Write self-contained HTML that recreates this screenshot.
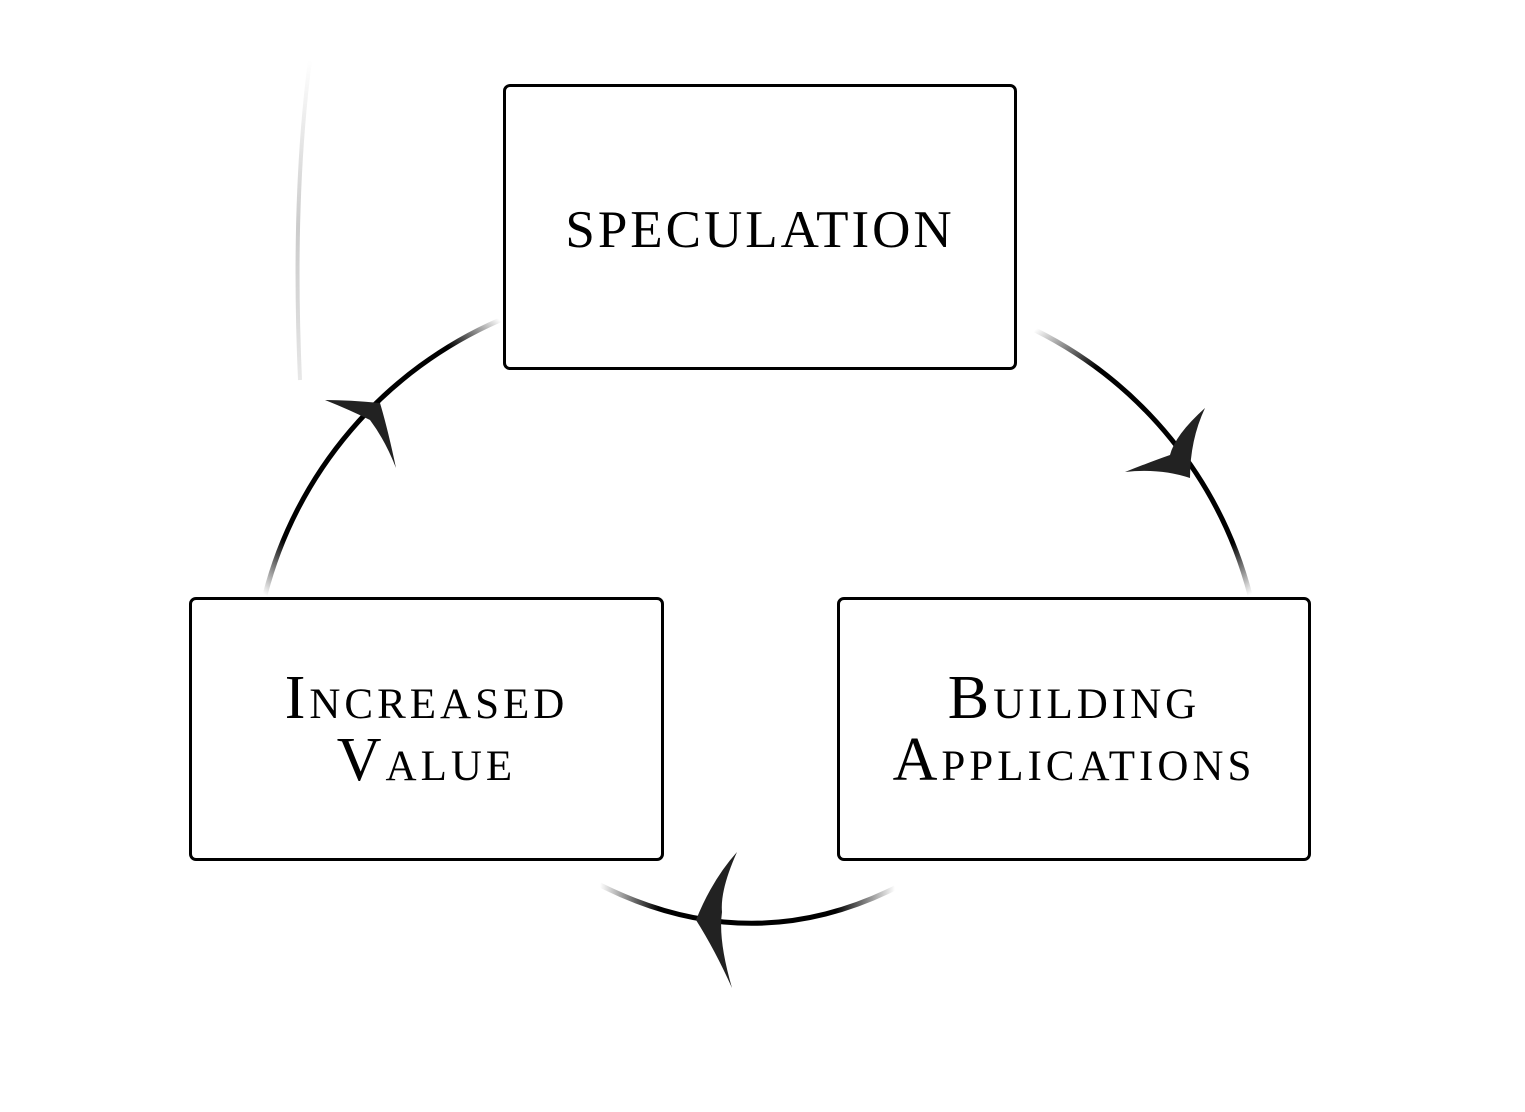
<!DOCTYPE html>
<html><head><meta charset="utf-8"><style>
html,body{margin:0;padding:0;background:#fff;}
.box{position:absolute;border:3px solid #000;border-radius:7px;box-sizing:border-box;background:#fff;display:flex;align-items:center;justify-content:center;text-align:center;font-family:"Liberation Serif",serif;font-variant:small-caps;font-size:62px;line-height:62px;letter-spacing:4px;color:#000;}
</style></head><body>
<div style="position:relative;width:1525px;height:1112px;overflow:hidden">
<svg width="1525" height="1112" style="position:absolute;left:0;top:0">
<defs>
<linearGradient id="g1" gradientUnits="userSpaceOnUse" x1="1035" y1="330" x2="1250" y2="595"><stop offset="0" stop-color="#000" stop-opacity="0"/><stop offset="0.2" stop-color="#000"/><stop offset="0.85" stop-color="#000"/><stop offset="1" stop-color="#000" stop-opacity="0"/></linearGradient>
<linearGradient id="g2" gradientUnits="userSpaceOnUse" x1="895" y1="888" x2="600" y2="885"><stop offset="0" stop-color="#000" stop-opacity="0"/><stop offset="0.2" stop-color="#000"/><stop offset="0.8" stop-color="#000"/><stop offset="1" stop-color="#000" stop-opacity="0"/></linearGradient>
<linearGradient id="g3" gradientUnits="userSpaceOnUse" x1="265" y1="595" x2="500" y2="320"><stop offset="0" stop-color="#000" stop-opacity="0"/><stop offset="0.15" stop-color="#000"/><stop offset="0.85" stop-color="#000"/><stop offset="1" stop-color="#000" stop-opacity="0"/></linearGradient>
<linearGradient id="g4" gradientUnits="userSpaceOnUse" x1="0" y1="60" x2="0" y2="390"><stop offset="0" stop-color="#ccc" stop-opacity="0"/><stop offset="0.5" stop-color="#ccc"/><stop offset="1" stop-color="#bbb" stop-opacity="0.3"/></linearGradient>
</defs>
<path d="M310 60 Q292 200 300 380" stroke="url(#g4)" stroke-width="4" fill="none"/>
<path d="M1035 330 A412 412 0 0 1 1250 595" stroke="url(#g1)" stroke-width="5" fill="none"/>
<path d="M600 885 Q750 960 895 888" stroke="url(#g2)" stroke-width="5" fill="none"/>
<path d="M265 595 A412 412 0 0 1 500 320" stroke="url(#g3)" stroke-width="5" fill="none"/>
<path d="M1190 478 Q1190 440 1205 408 Q1175 435 1170 455 Q1150 462 1125 472 Q1160 468 1190 478 Z" fill="#222"/>
<path d="M696 920 Q712 880 737 852 Q720 890 722 912 Q718 940 732 988 Q715 950 696 920 Z" fill="#222"/>
<path d="M380 403 Q350 400 325 400 Q350 410 370 420 Q385 440 396 468 Q388 430 380 403 Z" fill="#222"/>
</svg>
<div class="box" style="left:503px;top:84px;width:514px;height:286px;font-variant:normal;font-size:53px;letter-spacing:3px;padding-top:6px">SPECULATION</div>
<div class="box" style="left:189px;top:597px;width:475px;height:264px">Increased<br>Value</div>
<div class="box" style="left:837px;top:597px;width:474px;height:264px">Building<br>Applications</div>
</div>
</body></html>
